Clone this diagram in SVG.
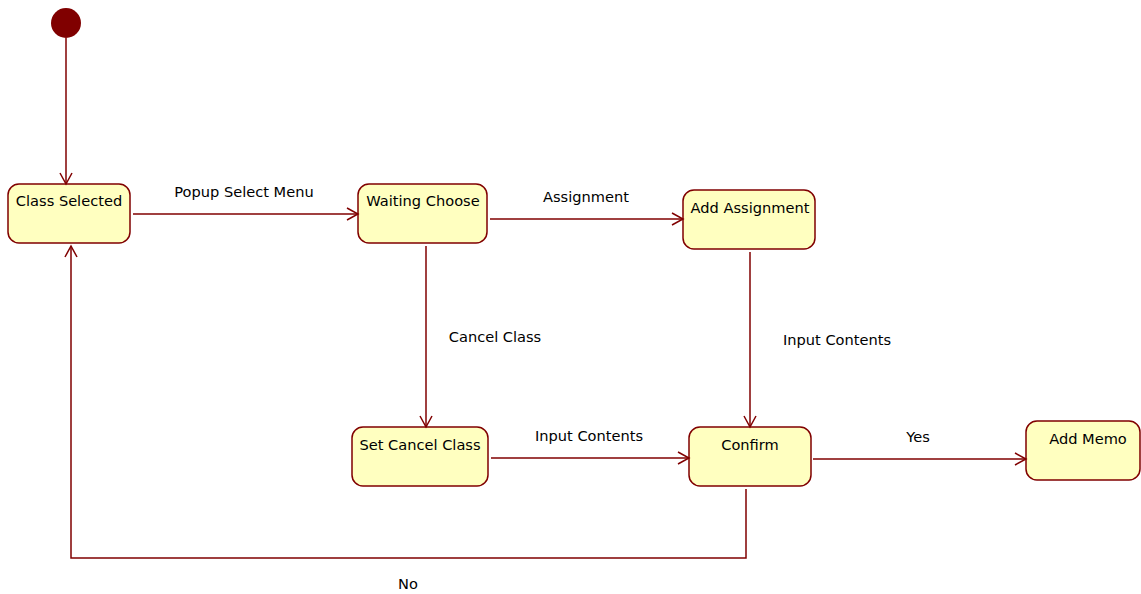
<svg xmlns="http://www.w3.org/2000/svg" width="1141" height="594" viewBox="0 0 1141 594">
<style>
.node rect{fill:#ffffc0;stroke:#800000;stroke-width:1.5}
.node text,.lbl{font-family:"DejaVu Sans",Verdana,sans-serif;font-size:14.6px;fill:#000}
.node text{text-anchor:middle}
.lbl{text-anchor:middle}
.edge{fill:none;stroke:#800000;stroke-width:1.5;marker-end:url(#arr)}
</style>
<defs>
<marker id="arr" markerWidth="14" markerHeight="14" refX="12" refY="7" orient="auto" markerUnits="userSpaceOnUse">
<path d="M1,1 L12,7 L1,13" fill="none" stroke="#800000" stroke-width="1.5"/>
</marker>
</defs>
<g id="start"><circle cx="66" cy="23" r="15" fill="#800000"/></g>
<g id="classSelected" class="node"><rect x="8" y="184" width="122" height="59" rx="11"/><text x="69" y="206">Class Selected</text></g>
<g id="waitingChoose" class="node"><rect x="358" y="184" width="129" height="59" rx="11"/><text x="423" y="206">Waiting Choose</text></g>
<g id="addAssignment" class="node"><rect x="683" y="190" width="132" height="59" rx="11"/><text x="750" y="213">Add Assignment</text></g>
<g id="setCancelClass" class="node"><rect x="352" y="427" width="136" height="59" rx="11"/><text x="420" y="450">Set Cancel Class</text></g>
<g id="confirm" class="node"><rect x="689" y="427" width="122" height="59" rx="11"/><text x="750" y="450">Confirm</text></g>
<g id="addMemo" class="node"><rect x="1026" y="421" width="114" height="59" rx="11"/><text x="1088" y="444">Add Memo</text></g>
<g id="connectors">
<path class="edge" d="M66,38 V184"/>
<path class="edge" d="M133,214 H358"/>
<path class="edge" d="M490,219 H683"/>
<path class="edge" d="M426,246 V427"/>
<path class="edge" d="M750,252 V427"/>
<path class="edge" d="M491,458 H689"/>
<path class="edge" d="M813,459 H1026"/>
<path class="edge" d="M746,489 V558 H71 V246"/>
<text class="lbl" x="244" y="197">Popup Select Menu</text>
<text class="lbl" x="586" y="202">Assignment</text>
<text class="lbl" x="495" y="342">Cancel Class</text>
<text class="lbl" x="837" y="345">Input Contents</text>
<text class="lbl" x="589" y="441">Input Contents</text>
<text class="lbl" x="918" y="442">Yes</text>
<text class="lbl" x="408" y="589">No</text>
</g>
</svg>
